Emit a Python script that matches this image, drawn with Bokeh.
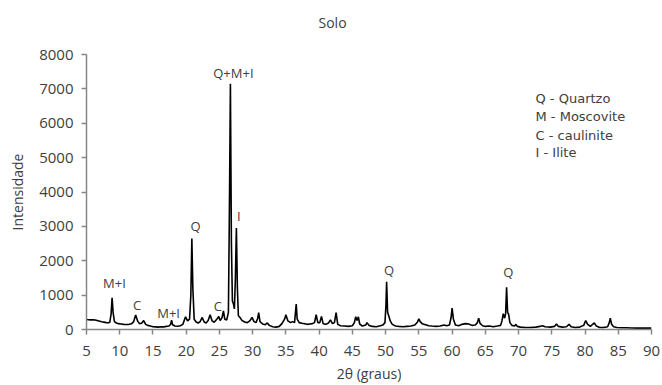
from bokeh.plotting import figure
from bokeh.models import Range1d, FixedTicker
from bokeh.core.properties import value
from bokeh.embed import file_html
from bokeh.resources import INLINE

# ---- data ----
two_theta = [5.0, 5.3, 5.6, 6.0, 6.3, 6.6, 7.0, 7.3, 7.6, 8.0, 8.3, 8.5, 8.7, 8.85, 9.0, 9.2, 9.5, 9.8,
             10.2, 10.6, 11.0, 11.4, 11.8, 12.1, 12.4, 12.7, 13.0, 13.3, 13.6, 13.9, 14.2, 14.6, 15.0,
             15.4, 15.8, 16.2, 16.6, 17.0, 17.4, 17.65, 17.8, 17.95, 18.3, 18.7, 19.1, 19.5, 19.9, 20.2,
             20.5, 20.7, 20.85, 21.0, 21.2, 21.5, 21.8, 22.1, 22.4, 22.7, 23.0, 23.3, 23.6, 23.9, 24.2,
             24.6, 24.9, 25.1, 25.4, 25.6, 25.8, 26.1, 26.35, 26.5, 26.65, 26.8, 26.95, 27.1, 27.25,
             27.4, 27.55, 27.7, 27.85, 28.1, 28.4, 28.8, 29.2, 29.6, 29.9, 30.2, 30.5, 30.75, 30.9,
             31.1, 31.5, 31.9, 32.2, 32.5, 33.0, 33.5, 34.0, 34.4, 34.8, 35.0, 35.3, 35.7, 36.0, 36.3,
             36.55, 36.7, 37.0, 37.4, 37.8, 38.2, 38.6, 39.0, 39.3, 39.55, 39.8, 40.1, 40.35, 40.6,
             41.0, 41.4, 41.7, 42.0, 42.3, 42.55, 42.8, 43.2, 43.8, 44.4, 45.0, 45.3, 45.5, 45.7, 45.9,
             46.1, 46.5, 47.0, 47.2, 47.5, 48.0, 48.6, 49.2, 49.6, 49.9, 50.05, 50.15, 50.3, 50.5,
             50.7, 51.0, 51.5, 52.0, 52.6, 53.2, 53.8, 54.4, 54.8, 55.0, 55.2, 55.5, 56.0, 56.5, 57.0,
             57.6, 58.2, 58.8, 59.2, 59.6, 59.85, 60.0, 60.2, 60.5, 61.0, 61.5, 62.0, 62.5, 63.0, 63.5,
             63.8, 64.0, 64.2, 64.6, 65.0, 65.6, 66.2, 66.8, 67.3, 67.5, 67.7, 67.9, 68.05, 68.2,
             68.35, 68.5, 68.7, 69.0, 69.4, 69.6, 69.8, 70.3, 71.0, 71.8, 72.6, 73.2, 73.6, 74.0,
             74.8, 75.4, 75.7, 76.0, 76.6, 77.2, 77.6, 77.9, 78.5, 79.2, 79.8, 80.1, 80.4, 80.8, 81.2,
             81.4, 81.7, 82.2, 82.8, 83.4, 83.65, 83.8, 84.0, 84.3, 84.8, 85.5, 86.2, 87.0, 87.8,
             88.5, 89.2, 90.0]
intensity = [290, 285, 280, 285, 275, 260, 240, 225, 215, 200, 195, 210, 450, 920, 500, 230, 190, 170,
             160, 150, 145, 150, 170, 230, 420, 240, 170, 180, 260, 150, 120, 100, 80,
             75, 70, 80, 75, 90, 100, 150, 270, 140, 100, 95, 110, 150, 370, 250,
             300, 1000, 2650, 1200, 300, 220, 190, 230, 350, 220, 190, 260, 430, 250, 210,
             300, 380, 260, 350, 540, 300, 280, 500, 3500, 7150, 2500, 820, 750, 600,
             1500, 2950, 1200, 400, 350, 260, 220, 200, 260, 350, 230, 200, 320, 490,
             230, 160, 140, 190, 120, 80, 70, 90, 170, 300, 430, 250, 200, 230, 200,
             740, 300, 200, 180, 170, 150, 160, 170, 200, 430, 200, 200, 380, 170,
             150, 190, 280, 170, 200, 490, 150, 110, 100, 90, 110, 200, 370, 260, 370,
             160, 100, 130, 200, 120, 90, 80, 110, 130, 200, 700, 1390, 500, 380,
             250, 150, 100, 90, 80, 90, 100, 130, 220, 310, 230, 170, 140, 110, 100,
             90, 100, 130, 110, 130, 350, 620, 300, 130, 110, 150, 170, 160, 120, 130,
             200, 330, 180, 110, 90, 100, 80, 100, 120, 250, 460, 330, 450, 1230,
             500, 450, 200, 120, 100, 150, 90, 70, 60, 60, 70, 90, 110, 80,
             70, 90, 160, 90, 70, 80, 150, 80, 60, 70, 120, 260, 150, 90, 160,
             190, 100, 60, 60, 80, 200, 330, 150, 80, 60, 50, 50, 45, 40,
             45, 40, 40]

x_ticks = [5, 10, 15, 20, 25, 30, 35, 40, 45, 50, 55, 60, 65, 70, 75, 80, 85, 90]
y_ticks = [0, 1000, 2000, 3000, 4000, 5000, 6000, 7000, 8000]

peak_labels = ["M+I", "C", "M+I", "Q", "C", "Q+M+I", "I", "Q", "Q"]
peak_x = [9.2, 12.6, 17.35, 21.4, 24.75, 27.1, 27.9, 50.5, 68.45]
peak_y = [1343, 700, 477, 3007, 672, 7475, 3300, 1743, 1674]

legend_lines = ["Q - Quartzo", "M - Moscovite", "C - caulinite", "I - Ilite"]
legend_x = 72.55
legend_y = [6715, 6190, 5635, 5139]

title_text = "Solo"
x_label = "2θ (graus)"
y_label = "Intensidade"

# ---- figure ----
p = figure(width=662, height=385, output_backend="svg", toolbar_location=None,
           x_range=Range1d(5, 90), y_range=Range1d(0, 8000),
           min_border_left=86, min_border_right=11, min_border_top=54, min_border_bottom=56)
p.outline_line_color = None
p.xgrid.visible = False
p.ygrid.visible = False

text_color = "#404040"
axis_color = "#868686"

p.title.text = title_text + "\n "
p.title.align = "left"
p.title.offset = 232
p.title.standoff = 8
p.title.text_font = "Open Sans"
p.title.text_font_size = "14px"
p.title.text_font_style = "normal"
p.title.text_color = text_color

p.line(two_theta, intensity, line_color="black", line_width=1.6)

tick_font = "Open Sans"
for ax in (p.xaxis[0], p.yaxis[0]):
    ax.axis_line_color = axis_color
    ax.axis_line_width = 1.5
    ax.major_tick_line_color = axis_color
    ax.major_tick_line_width = 1.5
    ax.major_tick_in = 0
    ax.major_tick_out = 5
    ax.minor_tick_line_color = None
    ax.major_label_text_font = tick_font
    ax.major_label_text_font_size = "15px"
    ax.major_label_text_color = text_color
    ax.axis_label_text_font = tick_font
    ax.axis_label_text_font_size = "14px"
    ax.axis_label_text_font_style = "normal"
    ax.axis_label_text_color = text_color

p.xaxis[0].ticker = FixedTicker(ticks=x_ticks)
p.yaxis[0].ticker = FixedTicker(ticks=y_ticks)
p.xaxis[0].axis_label = x_label
p.yaxis[0].axis_label = y_label
p.xaxis[0].major_label_standoff = 11
p.yaxis[0].major_label_standoff = 8
p.xaxis[0].axis_label_standoff = 5
p.yaxis[0].axis_label_standoff = 9

p.text(x=peak_x, y=peak_y, text=peak_labels, text_align="center", text_baseline="middle",
       text_font_size="13px", text_color=text_color, text_font=value("Open Sans"))

p.text(x=[legend_x] * len(legend_lines), y=legend_y, text=legend_lines, text_align="left",
       text_baseline="middle", text_font_size="13px", text_color=text_color,
       text_font=value("DejaVu Sans"))

open("out.html", "w").write(file_html(p, INLINE))
